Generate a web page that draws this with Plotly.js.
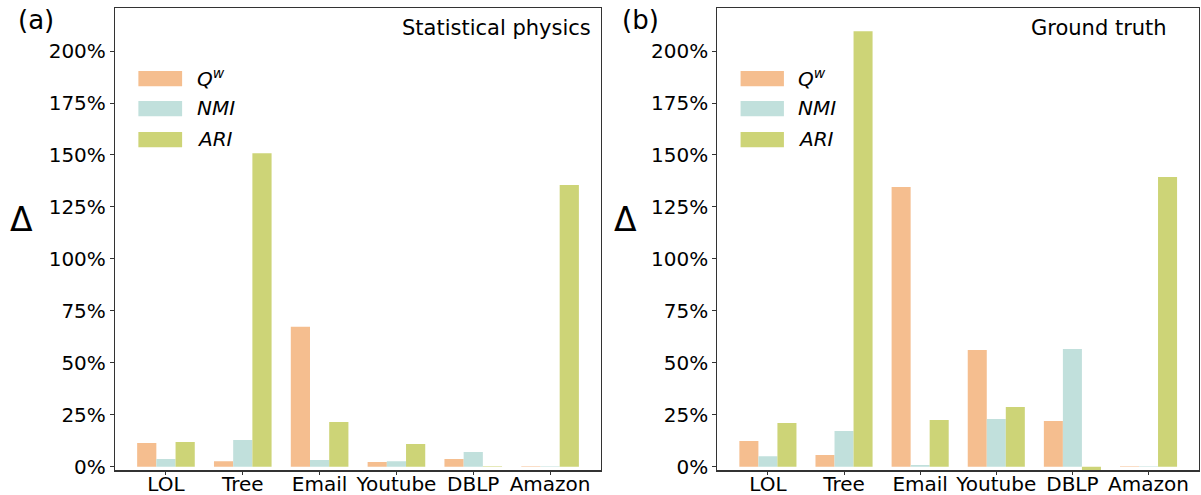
<!DOCTYPE html>
<html><head><meta charset="utf-8">
<script src="https://cdn.plot.ly/plotly-3.0.1.min.js"></script>
<style>body{margin:0;background:#fff}#chart{width:1201px;height:495px}</style>
</head><body><div id="chart"></div>
<script>
const categories = ['LOL', 'Tree', 'Email', 'Youtube', 'DBLP', 'Amazon'];
const seriesNames = ['<i>Q<sup>w</sup></i>', '<i>NMI</i>', '<i>ARI</i>'];
const statQw  = [11.4, 2.7, 67.3, 2.3, 3.7, 0.3];
const statNMI = [3.7, 12.9, 3.2, 2.7, 7.1, 0.2];
const statARI = [11.9, 150.8, 21.5, 10.9, 0.3, 135.5];
const gtQw  = [12.4, 5.6, 134.6, 56.2, 22.0, 0.3];
const gtNMI = [5.1, 17.2, 0.8, 23.0, 56.7, 0.3];
const gtARI = [21.0, 209.5, 22.5, 28.8, -2.0, 139.4];
const yTicks = [0, 25, 50, 75, 100, 125, 150, 175, 200];
const panelTitles = ['Statistical physics', 'Ground truth'];
const panelLabels = ['(a)', '(b)'];

const colors = ['#F5BE8F', '#C1E0DC', '#CDD477'];
const FONT = 'DejaVu Sans, Liberation Sans, sans-serif';
const panels = [[statQw, statNMI, statARI], [gtQw, gtNMI, gtARI]];

const traces = [];
panels.forEach((series, p) => {
  series.forEach((vals, i) => {
    traces.push({
      type: 'bar', x: categories, y: vals, name: seriesNames[i],
      marker: {color: colors[i], line: {width: 0}},
      xaxis: p === 0 ? 'x' : 'x2', yaxis: p === 0 ? 'y' : 'y2',
      showlegend: false, hoverinfo: 'x+y'
    });
  });
});

function xax(domain) {
  return {
    domain: domain, type: 'category', range: [-0.6625, 5.6625],
    showline: true, mirror: true, linecolor: '#333', linewidth: 1.2,
    ticks: 'outside', ticklen: 3, tickcolor: '#333', ticklabelstandoff: -8,
    tickfont: {family: FONT, size: 20, color: '#000'}, showgrid: false, zeroline: false
  };
}
function yax(anchor) {
  return {
    domain: [0.0495, 0.9838], anchor: anchor, range: [-1.8, 220.7],
    tickvals: yTicks, ticktext: yTicks.map(v => v + '%'),
    showline: true, mirror: true, linecolor: '#333', linewidth: 1.2,
    ticks: 'outside', ticklen: 4, tickcolor: '#333',
    tickfont: {family: FONT, size: 20, color: '#000'}, showgrid: false, zeroline: false
  };
}

const shapes = [];
const annotations = [];
const rowY = [[0.831, 0.864, 0.848], [0.766, 0.799, 0.783], [0.699, 0.732, 0.716]];
['', '2'].forEach((s, p) => {
  rowY.forEach((r, i) => {
    shapes.push({type: 'rect', xref: 'x' + s + ' domain', yref: 'y' + s + ' domain',
      x0: 0.048, x1: 0.138, y0: r[0], y1: r[1], fillcolor: colors[i], line: {width: 0}});
    annotations.push({xref: 'x' + s + ' domain', yref: 'y' + s + ' domain', x: 0.164, y: r[2],
      xanchor: 'left', yanchor: 'middle', text: seriesNames[i], showarrow: false,
      font: {family: FONT, size: 20, color: '#000'}});
  });
});
annotations.push({xref: 'x domain', yref: 'y domain', x: 0.9835, y: 0.957, xanchor: 'right', yanchor: 'middle',
  text: panelTitles[0], showarrow: false, font: {family: FONT, size: 21, color: '#000'}});
annotations.push({xref: 'x2 domain', yref: 'y2 domain', x: 0.9377, y: 0.957, xanchor: 'right', yanchor: 'middle',
  text: panelTitles[1], showarrow: false, font: {family: FONT, size: 21, color: '#000'}});
annotations.push({xref: 'paper', yref: 'paper', x: 0.030, y: 0.96, xanchor: 'center', yanchor: 'middle',
  text: panelLabels[0], showarrow: false, font: {family: FONT, size: 26, color: '#000'}});
annotations.push({xref: 'paper', yref: 'paper', x: 0.533, y: 0.96, xanchor: 'center', yanchor: 'middle',
  text: panelLabels[1], showarrow: false, font: {family: FONT, size: 26, color: '#000'}});
annotations.push({xref: 'paper', yref: 'paper', x: 0.0183, y: 0.556, xanchor: 'center', yanchor: 'middle',
  text: 'Δ', showarrow: false, font: {family: FONT, size: 33, color: '#000'}});
annotations.push({xref: 'paper', yref: 'paper', x: 0.521, y: 0.556, xanchor: 'center', yanchor: 'middle',
  text: 'Δ', showarrow: false, font: {family: FONT, size: 33, color: '#000'}});

const layout = {
  width: 1201, height: 495,
  margin: {l: 0, r: 0, t: 0, b: 0},
  paper_bgcolor: '#fff', plot_bgcolor: '#fff',
  barmode: 'group', bargap: 0.25, bargroupgap: 0,
  xaxis: xax([0.0958, 0.5004]), yaxis: yax('x'),
  xaxis2: Object.assign(xax([0.5974, 0.9983]), {anchor: 'y2'}), yaxis2: yax('x2'),
  shapes: shapes, annotations: annotations,
  font: {family: FONT}
};
layout.xaxis.anchor = 'y';
Plotly.newPlot('chart', traces, layout, {displayModeBar: false, staticPlot: true});
</script></body></html>
